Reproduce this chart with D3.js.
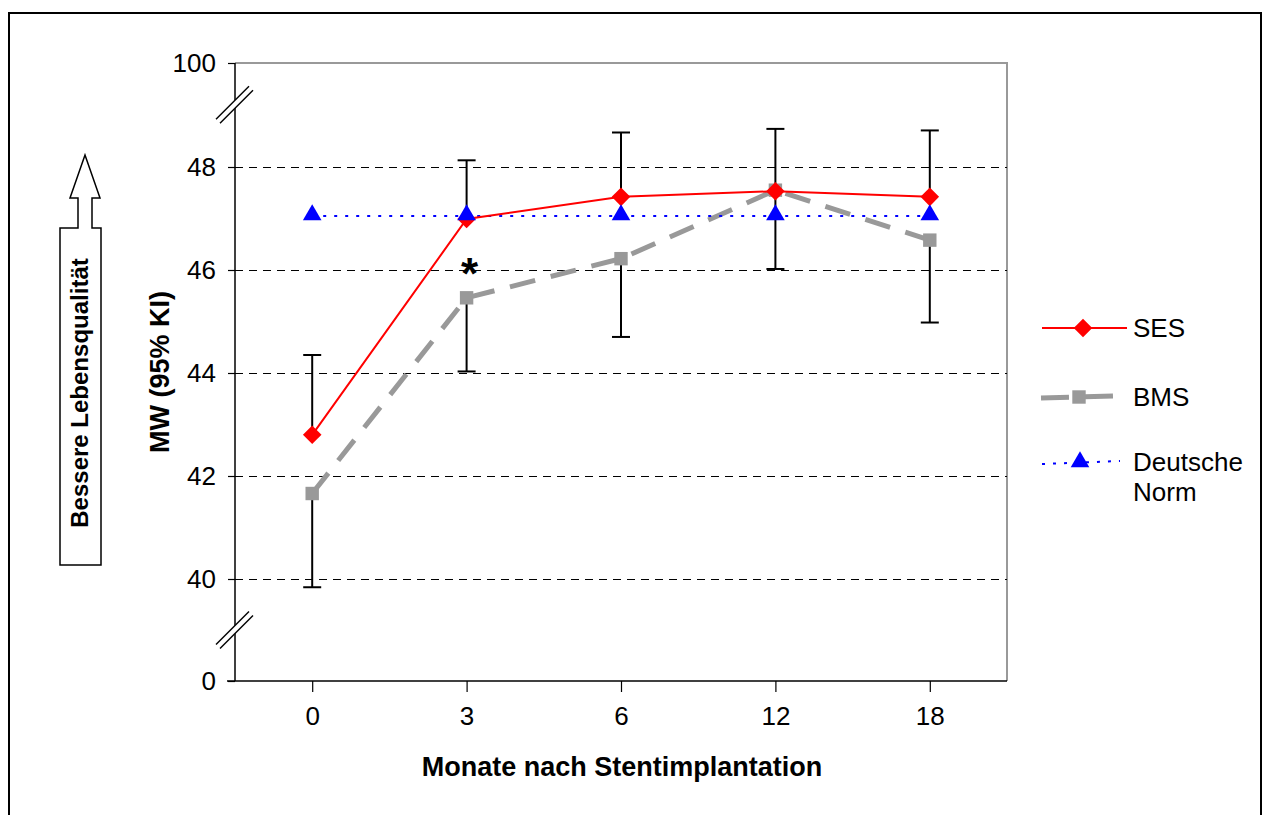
<!DOCTYPE html>
<html><head><meta charset="utf-8">
<script src="https://cdn.jsdelivr.net/npm/d3@7"></script>
<style>body{margin:0;background:#fff}svg{display:block}text{font-family:"Liberation Sans",Arial,sans-serif}</style>
</head><body>
<svg id="c" width="1264" height="815"></svg>
<script>
const categories = ["0","3","6","12","18"];
const sesValues = [42.8, 46.99, 47.42, 47.53, 47.42];
const bmsValues = [41.66, 45.46, 46.22, 47.55, 46.58];
const normValues = [47.05, 47.05, 47.05, 47.05, 47.05];
const errUpper = [44.35, 48.13, 48.67, 48.74, 48.71];
const errLower = [39.84, 44.03, 44.70, 46.02, 44.98];
const yTicks = [0, 40, 42, 44, 46, 48, 100];
const gridTicks = [40, 42, 44, 46, 48];
const breakLow = 39.0, breakHigh = 49.2;

const svg = d3.select("#c");
const L = 235, R = 1007, T = 63, B = 681;
const x = d3.scalePoint().domain(categories).range([L, R]).padding(0.5);
const unit = 51.5;
const y = d3.scaleLinear().domain([0, breakLow, breakHigh, 100])
  .range([B, 579 + (40 - breakLow) * unit, 579 - (breakHigh - 40) * unit, T]);
const FONT = "Liberation Sans, Arial, sans-serif";

// outer frame
svg.append("rect").attr("x", 9).attr("y", 13).attr("width", 1252).attr("height", 830)
  .attr("fill", "none").attr("stroke", "#000").attr("stroke-width", 2);

// plot border (top/right gray)
svg.append("path").attr("d", `M${L},${T}H${R}V${B}`).attr("fill", "none").attr("stroke", "#999").attr("stroke-width", 2);

// grid
svg.append("g").selectAll("line").data(gridTicks).join("line")
  .attr("x1", L).attr("x2", R).attr("y1", d => Math.round(y(d)) + 0.5).attr("y2", d => Math.round(y(d)) + 0.5)
  .attr("stroke", "#000").attr("stroke-width", 1).attr("stroke-dasharray", "8,6");

// y axis
const yAxis = d3.axisLeft(y).tickValues(yTicks).tickSize(7).tickPadding(12).tickFormat(d3.format("d"));
const gy = svg.append("g").attr("transform", `translate(${L},0)`).call(yAxis);
gy.select(".domain").attr("stroke", "#000").attr("stroke-width", 1.5).attr("d", `M0,${T}V${B}`);
gy.selectAll(".tick line").attr("stroke", "#000").attr("stroke-width", 1.2);
gy.selectAll(".tick text").attr("font-size", 26).attr("fill", "#000").style("font-family", FONT);

// x axis
const xAxis = d3.axisBottom(x).tickSize(11).tickPadding(15);
const gx = svg.append("g").attr("transform", `translate(0,${B})`).call(xAxis);
gx.select(".domain").attr("stroke", "#000").attr("stroke-width", 1.5).attr("d", `M${L - 8},0H${R}`);
gx.selectAll(".tick line").attr("stroke", "#000").attr("stroke-width", 1.2);
gx.selectAll(".tick text").attr("font-size", 26).attr("fill", "#000").style("font-family", FONT);

// axis breaks
function brk(cy) {
  const g = svg.append("g");
  g.append("line").attr("x1", L - 17).attr("y1", cy + 16).attr("x2", L + 16).attr("y2", cy - 17).attr("stroke", "#fff").attr("stroke-width", 6);
  [-2, 2].forEach(o => g.append("line").attr("x1", L - 17 + o).attr("y1", cy + 16 + o).attr("x2", L + 16 + o).attr("y2", cy - 17 + o)
    .attr("stroke", "#000").attr("stroke-width", 1.5));
}
brk(y(breakHigh)); brk(y(breakLow));

// lines
const line = d3.line().x((d, i) => x(categories[i])).y(d => y(d));
svg.append("path").datum(bmsValues).attr("d", line).attr("fill", "none").attr("stroke", "#999")
  .attr("stroke-width", 5).attr("stroke-dasharray", "26,16");
svg.append("path").datum(normValues).attr("d", line).attr("fill", "none").attr("stroke", "#0000ff")
  .attr("stroke-width", 2).attr("stroke-dasharray", "3,8");
svg.append("path").datum(sesValues).attr("d", line).attr("fill", "none").attr("stroke", "#ff0000").attr("stroke-width", 2);

// error bars
const eb = svg.append("g").attr("stroke", "#000").attr("stroke-width", 2);
categories.forEach((c, i) => {
  const cx = x(c);
  eb.append("line").attr("x1", cx).attr("x2", cx).attr("y1", y(sesValues[i])).attr("y2", y(errUpper[i]));
  eb.append("line").attr("x1", cx - 9).attr("x2", cx + 9).attr("y1", y(errUpper[i])).attr("y2", y(errUpper[i]));
  eb.append("line").attr("x1", cx).attr("x2", cx).attr("y1", y(bmsValues[i])).attr("y2", y(errLower[i]));
  eb.append("line").attr("x1", cx - 9).attr("x2", cx + 9).attr("y1", y(errLower[i])).attr("y2", y(errLower[i]));
});

// markers
const diamond = d3.symbol().type(d3.symbolDiamond2).size(220);
const square = d3.symbol().type(d3.symbolSquare).size(180);
const tri = d3.symbol().type(d3.symbolTriangle).size(150);
svg.append("g").selectAll("path").data(bmsValues).join("path").attr("d", square)
  .attr("transform", (d, i) => `translate(${x(categories[i])},${y(d)})`).attr("fill", "#999");
svg.append("g").selectAll("path").data(sesValues).join("path").attr("d", diamond)
  .attr("transform", (d, i) => `translate(${x(categories[i])},${y(d)})`).attr("fill", "#ff0000");
svg.append("g").selectAll("path").data(normValues).join("path").attr("d", tri)
  .attr("transform", (d, i) => `translate(${x(categories[i])},${y(d) - 1})`).attr("fill", "#0000ff");

// significance star
svg.append("text").attr("x", x("3") + 3).attr("y", 289).attr("text-anchor", "middle")
  .attr("font-size", 44).attr("font-weight", "bold").text("*");

// titles
svg.append("text").attr("x", (L + R) / 2 + 1).attr("y", 776).attr("text-anchor", "middle")
  .attr("font-size", 27).attr("font-weight", "bold").text("Monate nach Stentimplantation");
svg.append("text").attr("transform", "translate(169,372) rotate(-90)").attr("text-anchor", "middle")
  .attr("font-size", 27).attr("font-weight", "bold").text("MW (95% KI)");

// arrow box
svg.append("path").attr("d", "M60,565V228H78V198H70L85,155L100,198H92V228H101V565Z")
  .attr("fill", "#fff").attr("stroke", "#000").attr("stroke-width", 1.5);
svg.append("text").attr("transform", "translate(88,393) rotate(-90)").attr("text-anchor", "middle")
  .attr("font-size", 24).attr("font-weight", "bold").text("Bessere Lebensqualität");

// legend
const leg = svg.append("g");
leg.append("line").attr("x1", 1042).attr("x2", 1127).attr("y1", 328).attr("y2", 328).attr("stroke", "#ff0000").attr("stroke-width", 2);
leg.append("path").attr("d", diamond).attr("transform", "translate(1083,328)").attr("fill", "#ff0000");
leg.append("text").attr("x", 1133).attr("y", 337).attr("font-size", 26).text("SES");
leg.append("line").attr("x1", 1041).attr("x2", 1114).attr("y1", 398).attr("y2", 396).attr("stroke", "#999").attr("stroke-width", 5).attr("stroke-dasharray", "28,16");
leg.append("path").attr("d", square).attr("transform", "translate(1079,397)").attr("fill", "#999");
leg.append("text").attr("x", 1133).attr("y", 406).attr("font-size", 26).text("BMS");
leg.append("line").attr("x1", 1042).attr("x2", 1120).attr("y1", 464).attr("y2", 461).attr("stroke", "#0000ff").attr("stroke-width", 2).attr("stroke-dasharray", "3,8");
leg.append("path").attr("d", tri).attr("transform", "translate(1080,462)").attr("fill", "#0000ff");
leg.append("text").attr("x", 1133).attr("y", 471).attr("font-size", 26).text("Deutsche");
leg.append("text").attr("x", 1133).attr("y", 501).attr("font-size", 26).text("Norm");
</script>
</body></html>
